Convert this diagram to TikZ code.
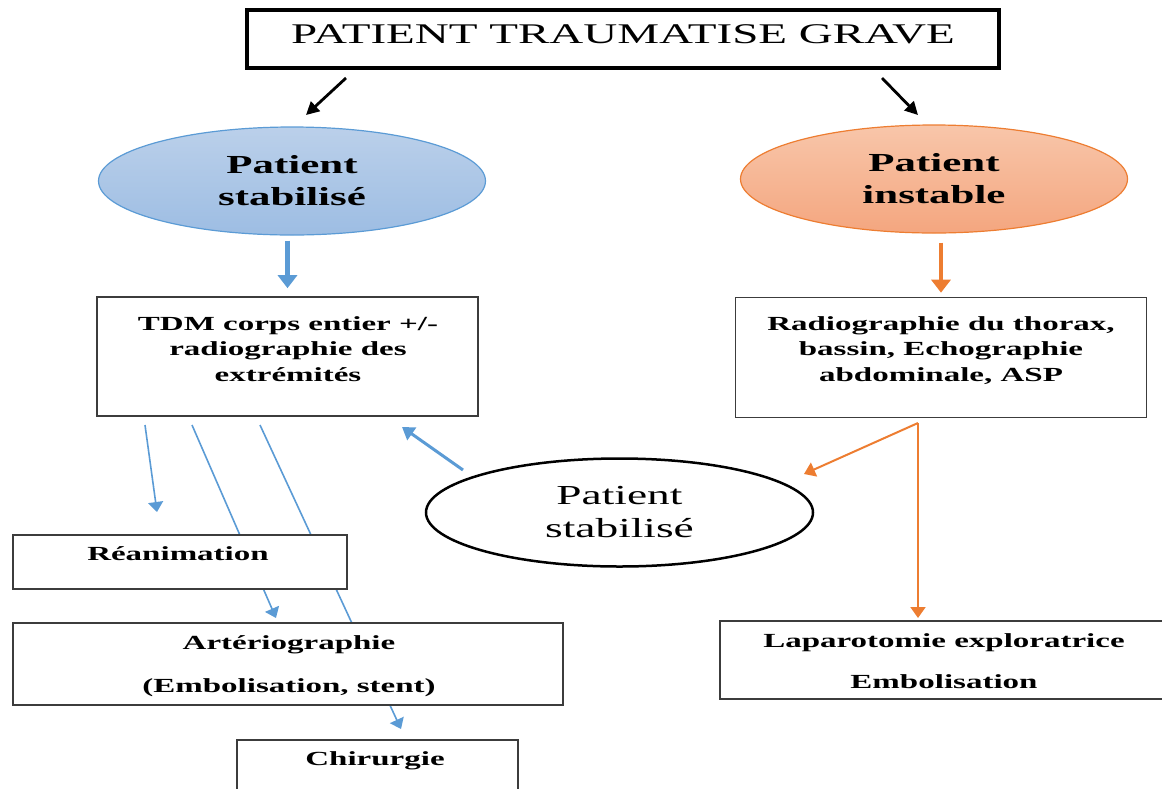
\documentclass[tikz,border=0pt]{standalone}
\usepackage{fontspec}
\setmainfont{Liberation Serif}[FakeStretch=1.65]
\usetikzlibrary{arrows.meta,shapes.geometric}

\definecolor{stabblue}{HTML}{5B9BD5}
\definecolor{stabtop}{HTML}{BBD0EA}
\definecolor{stabbot}{HTML}{9DBDE3}
\definecolor{instorange}{HTML}{ED7D31}
\definecolor{insttop}{HTML}{F8C6AA}
\definecolor{instbot}{HTML}{F4A67F}
\definecolor{boxline}{HTML}{3C3C3C}

\tikzset{
  bluearrow/.style={draw=stabblue, line width=1.6pt, -{Triangle[length=10pt,width=15pt]}},
  bluethick/.style={draw=stabblue, line width=4.2pt, -{Triangle[length=13pt,width=19pt]}},
  orangearrow/.style={draw=instorange, line width=2pt, -{Triangle[length=11pt,width=15pt]}},
  orangethick/.style={draw=instorange, line width=4.2pt, -{Triangle[length=13pt,width=19pt]}},
  blackarrow/.style={draw=black, line width=2.8pt, -{Triangle[length=13pt,width=13pt]}},
  boxfont/.style={font=\fontsize{20}{25.5}\selectfont\bfseries}
}

\begin{document}
\begin{tikzpicture}[x=1pt,y=-1pt]
\useasboundingbox (0,0) rectangle (1162,788);

      \coordinate (d1) at (145,425);
      \coordinate (f1) at (157,512);
      \coordinate (d2) at (192,425);
      \coordinate (f2) at (276,618);
      \coordinate (d3) at (260,425);
      \coordinate (f3) at (401,729);
      \coordinate (e1) at (463,470);
      \coordinate (f4) at (402,427);
      \coordinate (o1) at (918,423);
      \coordinate (o2) at (804,474);
      \coordinate (o3) at (918,618);
      \coordinate (g1) at (346,78);
      \coordinate (g2) at (306,115);
      \coordinate (g3) at (882,78);
      \coordinate (g4) at (918,115);

      \begin{scope}[every edge/.style={bluearrow}]
        \path (d1) edge (f1);
        \path (d2) edge (f2);
        \path (d3) edge (f3);
      \end{scope}

      \node[draw, line width=4pt, minimum width=752pt, minimum height=58pt, inner sep=0pt,
            text depth=10pt, font=\fontsize{28.5}{33}\selectfont] (grave) at (623,39) {PATIENT TRAUMATISE GRAVE};

      \begin{scope}[every node/.style={ellipse, align=center, minimum width=387pt, minimum height=108pt, inner sep=0pt}]
        \node[draw=stabblue, line width=1.2pt, top color=stabtop, bottom color=stabbot,
              font=\fontsize{26}{32}\selectfont\bfseries] (stab) at (292,181) {Patient\\stabilisé};
        \node[draw=instorange, line width=1.2pt, top color=insttop, bottom color=instbot,
              font=\fontsize{26}{32}\selectfont\bfseries] (instable) at (934,179) {Patient\\instable};
        \node[draw, line width=2.5pt, fill=white,
              font=\fontsize{27.5}{33}\selectfont] (stabbis) at (619.5,512.5) {Patient\\stabilisé};
      \end{scope}

      \begin{scope}[every node/.style={draw=boxline, line width=1.6pt, fill=white, inner sep=0pt}]
        \node[minimum width=381pt, minimum height=119pt] (tdm) at (287.5,356.5) {};
        \node[minimum width=411pt, minimum height=120pt] (radio) at (941,357.5) {};
        \node[minimum width=334pt, minimum height=54pt] (rea) at (180,562) {};
        \node[minimum width=550pt, minimum height=82pt] (arterio) at (288,664) {};
        \node[minimum width=281pt, minimum height=60pt] (chir) at (377.5,770) {};
        \node[minimum width=455pt, minimum height=78pt] (laparo) at (947.5,660) {};
      \end{scope}

      \begin{scope}[every node/.style={align=center, inner sep=0pt, anchor=north, boxfont}]
        \node (tdm-t) at (288,316) {TDM corps entier +/-\\radiographie des\\extrémités};
        \node (radio-t) at (941,316) {Radiographie du thorax,\\bassin, Echographie\\abdominale, ASP};
        \node (rea-t) at (178,546) {Réanimation};
        \node[font=\fontsize{20}{43}\selectfont\bfseries] (arterio-t) at (289,635) {Artériographie\\(Embolisation, stent)};
        \node (chir-t) at (375,751) {Chirurgie};
        \node[font=\fontsize{20}{41}\selectfont\bfseries] (laparo-t) at (944,633) {Laparotomie exploratrice\\Embolisation};
      \end{scope}

      \begin{scope}[every edge/.style={blackarrow}]
        \path (g1) edge (g2);
        \path (g3) edge (g4);
      \end{scope}

      \begin{scope}[every edge/.style={bluethick}]
        \path (stab.south -| tdm.north) edge[shorten <=5pt, shorten >=8pt] (tdm.north);
        \path (e1) edge[line width=3pt, -{Triangle[length=12pt,width=15pt]}] (f4);
      \end{scope}

      \begin{scope}[every edge/.style={orangearrow}]
        \path (instable.south -| radio.north) edge[orangethick, shorten <=9pt, shorten >=4pt] (radio.north);
        \path (o1) edge (o2);
        \path (o1) edge (o3);
      \end{scope}

    \end{tikzpicture}
\end{document}
